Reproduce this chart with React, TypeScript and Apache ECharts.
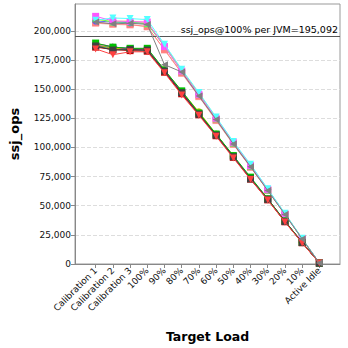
import React, { useEffect, useRef } from "react";
import * as echarts from "echarts";

const categories = ["Calibration 1", "Calibration 2", "Calibration 3", "100%", "90%", "80%", "70%", "60%", "50%", "40%", "30%", "20%", "10%", "Active Idle"];

const upper1 = [212400, 208500, 208000, 207500, 186500, 165500, 145500, 125000, 104500, 84500, 64000, 43000, 21800, 900];
const upper2 = [209000, 211000, 210500, 209600, 188500, 167000, 147000, 126000, 105000, 85500, 64500, 43500, 22000, 850];
const upper3 = [207500, 206000, 206500, 205500, 171000, 164700, 144000, 124000, 103000, 83500, 63000, 42500, 21500, 800];
const upper4 = [206500, 205500, 205000, 203800, 183500, 163500, 143500, 123000, 102500, 83000, 63000, 42500, 21500, 800];
const upper5 = [208500, 207500, 207000, 206500, 187500, 166000, 146000, 125000, 104000, 84000, 63800, 43000, 21800, 850];
const upper6 = [209500, 208000, 208500, 207000, 187000, 166500, 146500, 125500, 104500, 84800, 64200, 43200, 22000, 900];
const upper7 = [207000, 206000, 205500, 203500, 184000, 164000, 144000, 123500, 103000, 83200, 63200, 42600, 21600, 800];
const upper8 = [210500, 207500, 207500, 206000, 186500, 165500, 145500, 124500, 103800, 84000, 63500, 43000, 21700, 850];

const lower1 = [189500, 186000, 185000, 185000, 166500, 148500, 129500, 111500, 93000, 74500, 56000, 37000, 18600, 800];
const lower2 = [187000, 183500, 184000, 183500, 165500, 147000, 128500, 110500, 92000, 73000, 55500, 36500, 18500, 800];
const lower3 = [189000, 186500, 184000, 184500, 166000, 147500, 129000, 111000, 92500, 73800, 56000, 36800, 18500, 800];
const lower4 = [188000, 185000, 184500, 184000, 166500, 148000, 130500, 111500, 92500, 73500, 55800, 36700, 18400, 800];
const lower5 = [187500, 185500, 185000, 184000, 166000, 147500, 129000, 111000, 92300, 73500, 55800, 36600, 18500, 800];
const lower6 = [186500, 184500, 183500, 183000, 165000, 146500, 128500, 110000, 91800, 73000, 55300, 36300, 18300, 800];
const lower7 = [186000, 184000, 183000, 182500, 164500, 146000, 128000, 110000, 91500, 72800, 55000, 36200, 18200, 800];
const lower8 = [184500, 179500, 182000, 182000, 164000, 145000, 127500, 109500, 91000, 72500, 54800, 36000, 18000, 800];

const perJvm = 195092;
const yTicks = [0, 25000, 50000, 75000, 100000, 125000, 150000, 175000, 200000];

const seriesDefs = [
  { name: "JVM 1", data: upper4, color: "#FFAFAF", symbol: "rect", rot: 0, z: 2 },
  { name: "JVM 2", data: upper7, color: "#FF8080", symbol: "rect", rot: 0, z: 3 },
  { name: "JVM 3", data: upper5, color: "#5555FF", symbol: "circle", rot: 0, z: 4 },
  { name: "JVM 4", data: upper6, color: "#FFFF55", symbol: "diamond", rot: 0, z: 5 },
  { name: "JVM 5", data: upper8, color: "#55FF55", symbol: "triangle", rot: 0, z: 6 },
  { name: "JVM 6", data: upper1, color: "#FF55FF", symbol: "rect", rot: 0, z: 7 },
  { name: "JVM 7", data: upper3, color: "#808080", symbol: "triangle", rot: 90, z: 30 },
  { name: "JVM 8", data: upper2, color: "#55FFFF", symbol: "triangle", rot: 180, z: 9 },
  { name: "JVM 9", data: lower6, color: "#00C0C0", symbol: "diamond", rot: 0, z: 10 },
  { name: "JVM 10", data: lower5, color: "#0000C0", symbol: "triangle", rot: 90, z: 11 },
  { name: "JVM 11", data: lower7, color: "#C00000", symbol: "rect", rot: 0, z: 12 },
  { name: "JVM 12", data: lower4, color: "#C0C000", symbol: "circle", rot: 0, z: 13 },
  { name: "JVM 13", data: lower3, color: "#C000C0", symbol: "triangle", rot: 0, z: 14 },
  { name: "JVM 14", data: lower1, color: "#00C000", symbol: "rect", rot: 0, z: 15 },
  { name: "JVM 15", data: lower2, color: "#404040", symbol: "rect", rot: 0, z: 16 },
  { name: "JVM 16", data: lower8, color: "#FF4040", symbol: "triangle", rot: 180, z: 17 },
];

const FONT = "DejaVu Sans";

export default function App() {
  const ref = useRef<HTMLDivElement>(null);
  useEffect(() => {
    if (!ref.current) return;
    const chart = echarts.init(ref.current, null, { renderer: "svg" });
    const idx = categories.map((_, i) => i);
    const series: any[] = seriesDefs.map((s) => ({
      name: s.name,
      type: "line",
      data: s.data.map((v, i) => [i, v]),
      symbol: s.symbol,
      symbolSize: 7,
      symbolRotate: s.rot,
      showAllSymbol: true,
      lineStyle: { color: s.color, width: 1 },
      itemStyle: { color: s.color },
      z: s.z,
    }));
    series[0].markLine = {
      silent: true,
      symbol: "none",
      lineStyle: { color: "#555555", width: 1, type: "solid" },
      label: {
        position: "insideEndTop",
        formatter: "ssj_ops@100% per JVM=" + perJvm.toLocaleString("en-US"),
        color: "#000",
        fontFamily: FONT,
        fontSize: 9.5,
        distance: [2, 2],
      },
      data: [{ yAxis: perJvm }],
    };
    chart.setOption({
      animation: false,
      backgroundColor: "#fff",
      grid: { left: 74, right: 8, top: 4, bottom: 84, show: true, borderColor: "#999", borderWidth: 1, backgroundColor: "#fff" },
      xAxis: {
        type: "value",
        min: -1.2,
        max: 14.2,
        name: "Target Load",
        nameLocation: "middle",
        nameGap: 66,
        nameTextStyle: { fontFamily: FONT, fontWeight: "bold", fontSize: 12.5, color: "#000" },
        axisLine: { show: true, onZero: false, lineStyle: { color: "#888" } },
        axisTick: { show: true, customValues: idx, length: 4, lineStyle: { color: "#888" } },
        splitLine: { show: false },
        axisLabel: {
          customValues: idx,
          rotate: 45,
          fontFamily: FONT,
          fontSize: 9,
          color: "#111",
          margin: 5,
          formatter: (v: number) => categories[Math.round(v)] ?? "",
        },
      },
      yAxis: {
        type: "value",
        min: 0,
        max: 223000,
        interval: 25000,
        name: "ssj_ops",
        nameLocation: "middle",
        nameGap: 54,
        nameTextStyle: { fontFamily: FONT, fontWeight: "bold", fontSize: 13, color: "#000" },
        axisLine: { show: true, onZero: false, lineStyle: { color: "#888" } },
        axisTick: { show: true, length: 4, lineStyle: { color: "#888" }, customValues: yTicks },
        splitLine: { show: true, lineStyle: { color: "#dddddd", type: "dashed", width: 1 } },
        axisLabel: {
          customValues: yTicks,
          fontFamily: FONT,
          fontSize: 9,
          color: "#111",
          margin: 4,
          formatter: (v: number) => v.toLocaleString("en-US"),
        },
      },
      series,
    });
    return () => chart.dispose();
  }, []);
  return <div ref={ref} style={{ width: 348, height: 348, position: "absolute", left: 0, top: 0 }} />;
}
